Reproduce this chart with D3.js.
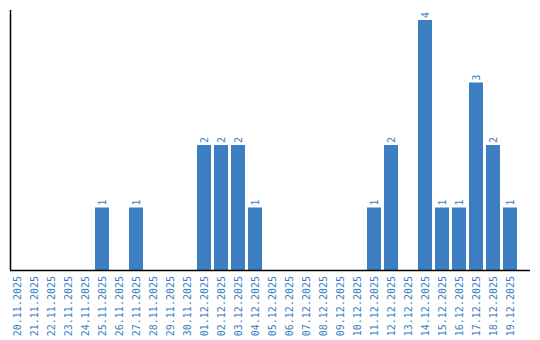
<!DOCTYPE html>
<html>
<head>
<meta charset="utf-8">
<script src="https://cdn.jsdelivr.net/npm/d3@7"></script>
<style>
  body { margin: 0; background: #fff; }
  text { font-family: "DejaVu Sans Mono", monospace; font-size: 10px; fill: #3a7ec2; }
</style>
</head>
<body>
<svg width="540" height="340"></svg>
<script>
const dates = ["20.11.2025","21.11.2025","22.11.2025","23.11.2025","24.11.2025","25.11.2025",
  "26.11.2025","27.11.2025","28.11.2025","29.11.2025","30.11.2025","01.12.2025","02.12.2025",
  "03.12.2025","04.12.2025","05.12.2025","06.12.2025","07.12.2025","08.12.2025","09.12.2025",
  "10.12.2025","11.12.2025","12.12.2025","13.12.2025","14.12.2025","15.12.2025","16.12.2025",
  "17.12.2025","18.12.2025","19.12.2025"];
const counts = [0,0,0,0,0,1,0,1,0,0,0,2,2,2,1,0,0,0,0,0,0,1,2,0,4,1,1,3,2,1];

const svg = d3.select("svg");
const axisX = 11, baseY = 270, topY = 20;

// x bands, 17px step, 14px bars
const x = d3.scaleBand()
    .domain(dates)
    .range([10, 517])
    .paddingInner(3 / 17)
    .paddingOuter(0)
    .align(0);

const y = d3.scaleLinear()
    .domain([0, 4])
    .range([baseY, topY]);

const data = dates.map((d, i) => ({date: d, value: counts[i]}));

// bars
svg.selectAll(".bar")
  .data(data.filter(d => d.value > 0))
  .enter().append("rect")
    .attr("class", "bar")
    .attr("x", d => x(d.date))
    .attr("y", d => y(d.value))
    .attr("width", x.bandwidth())
    .attr("height", d => baseY - y(d.value))
    .attr("fill", "#3b7ec2");

// value labels
svg.selectAll(".val")
  .data(data.filter(d => d.value > 0))
  .enter().append("text")
    .attr("transform", d => "translate(" + (x(d.date) + x.bandwidth() / 2 + 3.5) + "," + (y(d.value) - 2) + ") rotate(-90)")
    .attr("text-anchor", "start")
    .text(d => d.value);

// date labels
svg.selectAll(".lab")
  .data(dates)
  .enter().append("text")
    .attr("transform", d => "translate(" + (x(d) + x.bandwidth() / 2 + 3.5) + "," + (baseY + 6) + ") rotate(-90)")
    .attr("text-anchor", "end")
    .text(d => d);

// axes
svg.append("line")
    .attr("x1", axisX - 0.5).attr("x2", axisX - 0.5)
    .attr("y1", 10).attr("y2", baseY)
    .attr("stroke", "#000").attr("stroke-width", 1.5);

svg.append("line")
    .attr("x1", axisX - 1).attr("x2", 530)
    .attr("y1", baseY + 0.5).attr("y2", baseY + 0.5)
    .attr("stroke", "#000").attr("stroke-width", 1.5);
</script>
</body>
</html>
